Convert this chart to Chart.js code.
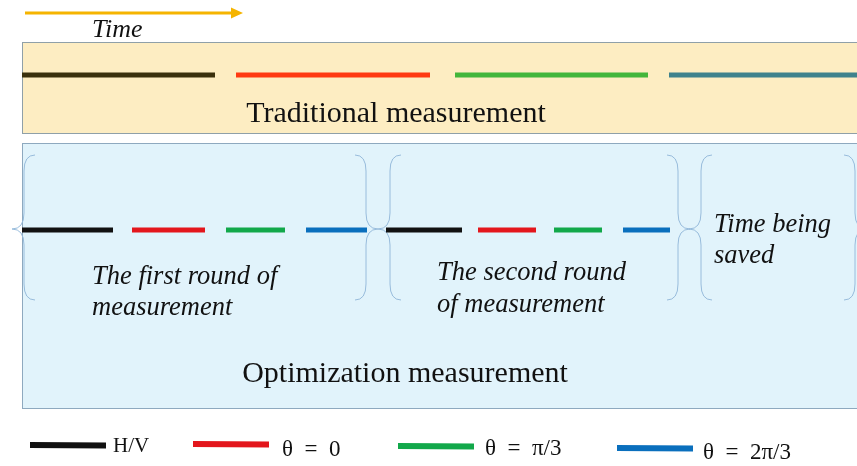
<!DOCTYPE html>
<html lang="en">
<head>
    <meta charset="UTF-8">
    <title>Traditional vs optimization measurement</title>
    <script src="https://cdn.jsdelivr.net/npm/chart.js"></script>
    <style>
        body { margin: 0; background: #fff; }
        canvas { display: block; }
    </style>
</head>
<body>
    <canvas id="timeline" width="857" height="466"></canvas>

    <script>
        // basis settings, in measurement order
        const phases = ['H/V', 'θ = 0', 'θ = π/3', 'θ = 2π/3'];
        const phaseColors = ['#111111', '#e3161c', '#12a84a', '#0a6fbd'];
        const tradColors = ['#3a300c', '#ff3a12', '#43b63b', '#3f828c'];

        // time spans (x units) of each basis
        const tradStart = [22, 236, 455, 669];
        const tradEnd = [215, 430, 648, 860];
        const round1Start = [22, 132, 226, 306];
        const round1End = [113, 205, 285, 367];
        const round2Start = [386, 478, 554, 623];
        const round2End = [462, 536, 602, 670];

        // rows on the y scale
        const rowTrad = 75;
        const rowOpt = 230;

        function spans(starts, ends, row, colors, prefix) {
            return starts.map((s, i) => ({
                label: prefix + ' ' + phases[i],
                data: [{ x: s, y: row }, { x: ends[i], y: row }],
                borderColor: colors[i],
                borderWidth: 5,
                borderCapStyle: 'butt',
                showLine: true,
                pointRadius: 0
            }));
        }

        const serif = '"Liberation Serif", "DejaVu Serif", serif';

        const diagramPlugin = {
            id: 'diagram',
            beforeDatasetsDraw(chart) {
                const c = chart.ctx;
                const X = v => chart.scales.x.getPixelForValue(v);
                const Y = v => chart.scales.y.getPixelForValue(v);
                c.save();
                // panels
                c.fillStyle = '#fdedc2';
                c.fillRect(X(22), Y(42), X(860) - X(22), Y(133) - Y(42));
                c.strokeStyle = '#8fa0a8';
                c.lineWidth = 1;
                c.strokeRect(X(22) + 0.5, Y(42) + 0.5, X(860) - X(22), Y(133) - Y(42));
                c.fillStyle = '#e1f3fb';
                c.fillRect(X(22), Y(143), X(860) - X(22), Y(408) - Y(143));
                c.strokeStyle = '#8ea9bf';
                c.strokeRect(X(22) + 0.5, Y(143) + 0.5, X(860) - X(22), Y(408) - Y(143));

                // time arrow
                c.strokeStyle = '#f5b400';
                c.fillStyle = '#f5b400';
                c.lineWidth = 3;
                c.beginPath(); c.moveTo(X(25), Y(13)); c.lineTo(X(234), Y(13)); c.stroke();
                c.beginPath();
                c.moveTo(X(243), Y(13)); c.lineTo(X(231), Y(7.5)); c.lineTo(X(231), Y(18.5));
                c.closePath(); c.fill();

                // braces
                c.strokeStyle = '#98bcdc';
                c.lineWidth = 1;
                const brace = (x, dir) => {
                    const top = Y(155), bot = Y(300), mid = Y(229), h = 11 * dir, t = 12 * dir;
                    const px = X(x);
                    c.beginPath();
                    c.moveTo(px + h, top);
                    c.quadraticCurveTo(px, top, px, top + 16);
                    c.lineTo(px, mid - 16);
                    c.quadraticCurveTo(px, mid, px - t, mid);
                    c.quadraticCurveTo(px, mid, px, mid + 16);
                    c.lineTo(px, bot - 16);
                    c.quadraticCurveTo(px, bot, px + h, bot);
                    c.stroke();
                };
                brace(24, 1);
                brace(366, -1);
                brace(390, 1);
                brace(678, -1);
                brace(701, 1);
                brace(855, -1);

                // texts
                c.fillStyle = '#111';
                c.textBaseline = 'alphabetic';
                c.textAlign = 'left';
                c.font = 'italic 26px ' + serif;
                c.fillText('Time', X(92), Y(37));
                c.font = '30px ' + serif;
                c.textAlign = 'center';
                c.fillText('Traditional measurement', X(396), Y(122));
                c.fillText('Optimization measurement', X(405), Y(382));
                c.textAlign = 'left';
                c.font = 'italic 26.5px ' + serif;
                c.fillText('The first round of', X(92), Y(284));
                c.fillText('measurement', X(92), Y(315));
                c.fillText('The second round', X(437), Y(280));
                c.fillText('of measurement', X(437), Y(312));
                c.fillText('Time being', X(714), Y(232));
                c.fillText('saved', X(714), Y(263));

                // legend
                const legX = [30, 193, 398, 617];
                const legY = [445, 444, 446, 448];
                const txtX = [113, 282, 485, 703];
                const txtY = [452, 456, 455, 459];
                c.lineWidth = 6;
                phases.forEach((p, i) => {
                    c.strokeStyle = phaseColors[i];
                    c.beginPath();
                    c.moveTo(X(legX[i]), Y(legY[i]));
                    c.lineTo(X(legX[i] + 76), Y(legY[i] + 0.5));
                    c.stroke();
                    c.fillStyle = '#111';
                    c.font = (i === 0 ? '21px ' : '23px ') + serif;
                    c.fillText(i === 0 ? p : p.replace(/ = /, '  =  '), X(txtX[i]), Y(txtY[i]));
                });
                c.restore();
            }
        };

        const datasets = [
            ...spans(tradStart, tradEnd, rowTrad, tradColors, 'Traditional'),
            ...spans(round1Start, round1End, rowOpt, phaseColors, 'Round 1'),
            ...spans(round2Start, round2End, rowOpt, phaseColors, 'Round 2')
        ];

        new Chart(document.getElementById('timeline'), {
            type: 'scatter',
            data: { datasets },
            options: {
                responsive: false,
                animation: false,
                layout: { padding: 0 },
                plugins: { legend: { display: false }, tooltip: { enabled: false } },
                scales: {
                    x: { type: 'linear', min: 0, max: 857, display: false },
                    y: { type: 'linear', min: 0, max: 466, reverse: true, display: false }
                }
            },
            plugins: [diagramPlugin]
        });
    </script>
</body>
</html>
